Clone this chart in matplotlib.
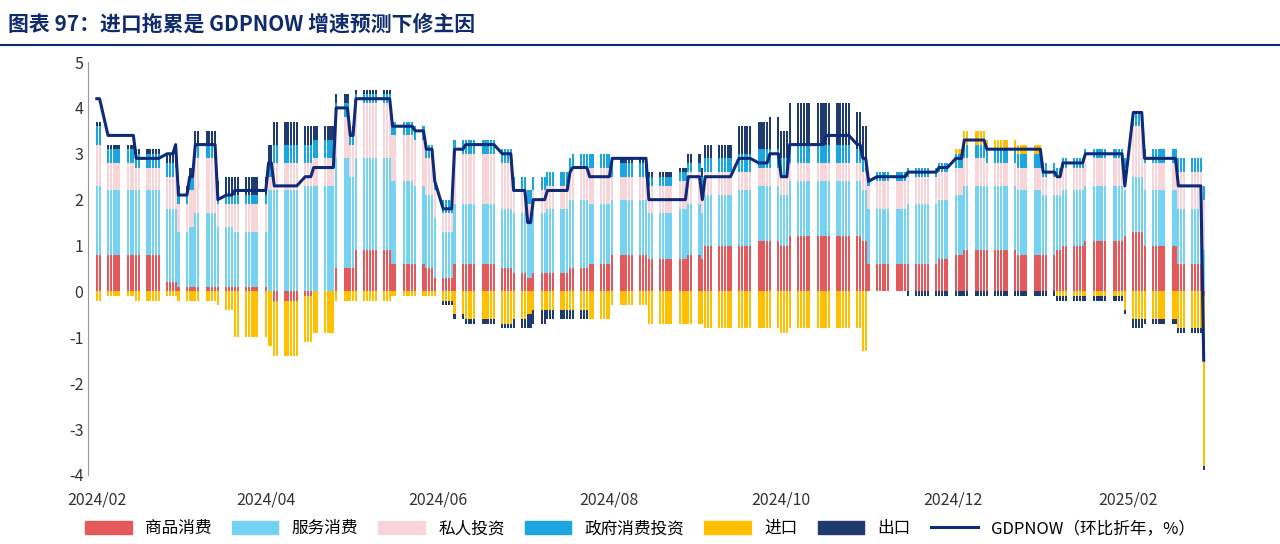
import matplotlib
matplotlib.use("Agg")
import matplotlib.pyplot as plt
import matplotlib.dates as mdates
import pandas as pd
import numpy as np
from matplotlib.lines import Line2D
from matplotlib.patches import Patch

plt.rcParams["font.family"] = ["Noto Sans CJK SC", "DejaVu Sans"]
plt.rcParams["axes.unicode_minus"] = False

update_dates = ["2024-02-01","2024-02-05","2024-02-15","2024-02-26","2024-02-29","2024-03-01","2024-03-05","2024-03-07",
"2024-03-15","2024-03-18","2024-03-21","2024-04-02","2024-04-04","2024-04-15","2024-04-18","2024-04-26","2024-05-01",
"2024-05-03","2024-05-16","2024-05-24","2024-05-28","2024-05-31","2024-06-03","2024-06-07","2024-06-11","2024-06-24",
"2024-06-28","2024-07-03","2024-07-05","2024-07-10","2024-07-18","2024-07-19","2024-07-25","2024-08-02","2024-08-15",
"2024-08-26","2024-08-29","2024-09-03","2024-09-04","2024-09-16","2024-09-23","2024-09-27","2024-10-01","2024-10-04",
"2024-10-17","2024-10-28","2024-10-30","2024-11-01","2024-11-04","2024-11-15","2024-11-26","2024-12-02","2024-12-05",
"2024-12-13","2024-12-24","2025-01-02","2025-01-07","2025-01-09","2025-01-17","2025-01-31","2025-02-03","2025-02-07",
"2025-02-19","2025-02-28"]
gdpnow = [4.2,3.4,2.9,3.0,3.2,2.1,2.5,3.2,2.0,2.1,2.2,2.8,2.3,2.5,2.7,4.0,3.4,4.2,3.6,3.5,3.1,2.4,1.8,3.1,3.2,3.0,
2.2,1.5,2.0,2.2,2.6,2.7,2.5,2.9,2.0,2.0,2.5,2.0,2.5,2.9,2.8,3.0,2.5,3.2,3.4,3.2,2.9,2.4,2.5,2.6,2.7,2.9,3.3,
3.1,3.1,2.6,2.5,2.8,3.0,2.3,3.9,2.9,2.3,-1.5]
goods = [0.8,0.8,0.8,0.2,0.2,0.1,0.1,0.1,0.1,0.1,0.1,0.0,-0.2,-0.1,0.0,0.5,0.5,0.9,0.6,0.6,0.5,0.3,0.3,0.6,0.6,0.5,
0.4,0.3,0.4,0.4,0.5,0.5,0.6,0.8,0.7,0.7,0.8,0.7,1.0,1.0,1.1,1.1,1.0,1.2,1.2,1.2,1.1,0.6,0.6,0.6,0.7,0.8,0.9,
0.9,0.8,0.8,0.9,1.0,1.1,1.2,1.3,1.0,0.6,-0.1]
services = [1.5,1.4,1.4,1.6,1.6,1.2,1.3,1.6,1.3,1.3,1.2,2.2,2.2,2.3,2.3,2.4,2.0,2.0,1.8,1.7,1.6,1.3,1.0,1.3,1.3,1.3,
1.3,1.2,1.3,1.4,1.5,1.5,1.3,1.2,1.0,1.1,1.1,1.0,1.1,1.2,1.2,1.2,1.1,1.2,1.2,1.2,1.1,1.2,1.2,1.3,1.3,1.3,1.4,
1.4,1.4,1.3,1.2,1.2,1.2,1.0,1.2,1.2,1.2,0.9]
investment = [0.9,0.6,0.5,0.7,0.9,0.6,0.8,1.2,0.5,0.5,0.6,0.3,0.6,0.5,0.6,0.9,0.7,1.2,1.0,1.0,0.8,0.6,0.4,1.1,1.1,1.0,
0.5,0.4,0.5,0.5,0.6,0.7,0.8,0.5,0.6,0.6,0.7,0.6,0.5,0.4,0.4,0.4,0.4,0.4,0.4,0.4,0.4,0.5,0.6,0.6,0.6,0.6,0.6,
0.5,0.5,0.4,0.4,0.5,0.6,0.5,1.1,0.6,0.8,1.1]
government = [0.4,0.3,0.3,0.3,0.3,0.3,0.3,0.3,0.2,0.2,0.2,0.3,0.4,0.4,0.4,0.3,0.3,0.2,0.3,0.3,0.3,0.3,0.3,0.3,0.3,0.3,
0.3,0.3,0.3,0.3,0.3,0.3,0.3,0.3,0.2,0.2,0.2,0.2,0.3,0.4,0.4,0.4,0.4,0.4,0.4,0.3,0.3,0.2,0.2,0.2,0.2,0.3,0.3,
0.3,0.3,0.3,0.2,0.2,0.2,0.2,0.3,0.3,0.3,0.3]
imports = [-0.2,-0.1,-0.2,-0.1,-0.1,-0.2,-0.2,-0.2,-0.3,-0.4,-1.0,-1.2,-1.2,-1.0,-0.9,-0.2,-0.2,-0.2,-0.1,-0.1,-0.1,
-0.1,-0.2,-0.5,-0.6,-0.7,-0.6,-0.5,-0.4,-0.4,-0.4,-0.4,-0.6,-0.3,-0.7,-0.7,-0.7,-0.7,-0.8,-0.8,-0.8,-0.8,-0.9,
-0.8,-0.8,-0.8,-1.3,0.0,0.0,0.0,0.0,0.1,0.3,0.2,0.2,0.0,-0.1,-0.1,-0.1,-0.4,-0.6,-0.6,-0.8,-3.7]
exports = [0.1,0.1,0.1,0.2,0.2,0.1,0.2,0.3,0.3,0.4,0.4,0.4,0.5,0.4,0.3,0.2,0.1,0.1,0.0,0.0,0.0,0.0,-0.1,-0.1,-0.1,
-0.1,-0.2,-0.3,-0.3,-0.2,-0.2,-0.2,0.0,0.1,0.1,0.1,0.2,0.2,0.3,0.6,0.6,0.7,0.6,0.9,0.9,0.8,0.7,0.0,0.0,-0.1,
-0.1,-0.1,-0.1,-0.1,-0.1,-0.1,-0.1,-0.1,-0.1,-0.1,-0.2,-0.1,-0.1,-0.1]
tick_labels = ["2024/02","2024/04","2024/06","2024/08","2024/10","2024/12","2025/02"]

src = pd.DataFrame({"gdp": gdpnow, "goods": goods, "services": services, "investment": investment,
                    "government": government, "imports": imports, "exports": exports},
                   index=pd.to_datetime(update_dates))
days = pd.bdate_range(src.index[0], src.index[-1])
df = src.reindex(days, method="ffill")

colors = {"goods": "#E4595B", "services": "#76D2F3", "investment": "#F7D5D9",
          "government": "#1AA7DF", "imports": "#FFC000", "exports": "#1F3A6E"}
names = {"goods": "商品消费", "services": "服务消费", "investment": "私人投资",
         "government": "政府消费投资", "imports": "进口", "exports": "出口"}

fig = plt.figure(figsize=(12.8, 5.44), dpi=100)
ax = fig.add_axes([0.069, 0.127, 0.878, 0.759])
x = mdates.date2num(df.index.to_pydatetime())
pos = np.zeros(len(df)); neg = np.zeros(len(df))
for k in ["goods", "services", "investment", "government", "imports", "exports"]:
    v = df[k].values
    bottom = np.where(v >= 0, pos, neg)
    ax.bar(x, v, bottom=bottom, width=0.75, color=colors[k], linewidth=0)
    pos = pos + np.where(v >= 0, v, 0); neg = neg + np.where(v < 0, v, 0)
ax.plot(x, df["gdp"].values, color="#0E2A78", lw=2.2)

ax.set_ylim(-4, 5)
ax.set_yticks(range(-4, 6))
ax.set_xlim(x[0] - 3, x[-1] + 3)
ticks = [mdates.date2num(pd.Timestamp(t.replace("/", "-") + "-01")) for t in tick_labels]
ax.set_xticks(ticks)
ax.set_xticklabels(tick_labels)
ax.tick_params(axis="both", length=0, labelsize=11.5, colors="#333333")
ax.tick_params(axis="x", pad=12)
for s in ["top", "right", "bottom"]:
    ax.spines[s].set_visible(False)
ax.spines["left"].set_color("#999999")

handles = [Patch(color=colors[k], label=names[k]) for k in colors] + \
          [Line2D([], [], color="#0E2A78", lw=2.2, label="GDPNOW（环比折年，%）")]
fig.legend(handles=handles, loc="lower center", ncol=7, frameon=False, bbox_to_anchor=(0.5, -0.015),
           fontsize=12, handlelength=2.8, handleheight=0.8, columnspacing=1.2)

fig.text(0.006, 0.955, "图表 97：进口拖累是 GDPNOW 增速预测下修主因", fontsize=15, fontweight="bold",
         color="#0F2B6B", va="center")
fig.add_artist(Line2D([0, 1], [0.917, 0.917], color="#0F2B6B", lw=1.5))
fig.savefig("out.png", dpi=100)
